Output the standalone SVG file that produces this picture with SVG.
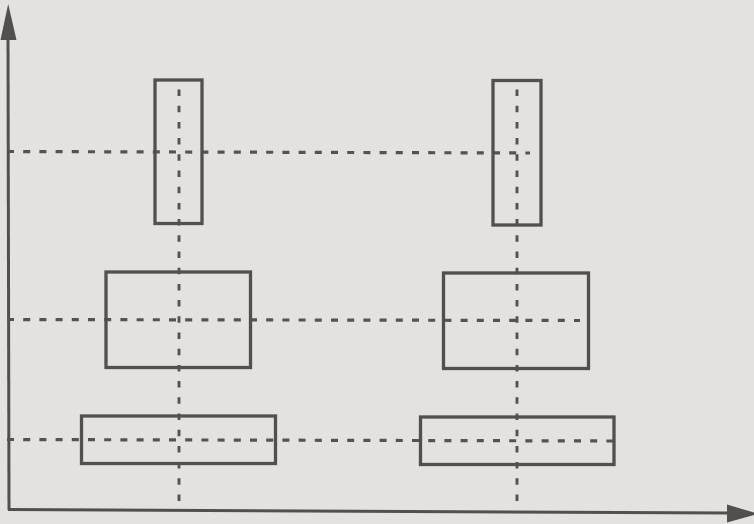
<svg xmlns="http://www.w3.org/2000/svg" width="754" height="524" viewBox="0 0 754 524">
  <style>
    .box { fill: none; stroke: #51504e; stroke-width: 3.3; }
    .axis { fill: none; stroke: #51504e; stroke-width: 3; }
    .head { fill: #51504e; stroke: none; }
    .dash { fill: none; stroke: #545351; stroke-width: 3.2; stroke-dasharray: 7 9.2; }
    .vdash { fill: none; stroke: #545351; stroke-width: 2.9; stroke-dasharray: 6.5 9.7; }
  </style>
  <rect x="0" y="0" width="754" height="524" fill="#e3e2e0"/>

  <g id="connectors">
    <g id="axes">
      <line class="axis" x1="8" y1="36" x2="9" y2="510"/>
      <polygon class="head" points="8.2,4 0.5,40 16.5,40"/>
      <line class="axis" x1="8" y1="509.5" x2="730" y2="513"/>
      <polygon class="head" points="727,504.5 727,522.5 758,513.8"/>
    </g>
    <g id="guides">
      <line class="dash" x1="7" y1="151.5" x2="530" y2="153"/>
      <line class="dash" x1="7" y1="319.5" x2="580" y2="320.5"/>
      <line class="dash" x1="7" y1="439.5" x2="614" y2="441"/>
      <line class="vdash" x1="179" y1="501" x2="179" y2="79"/>
      <line class="vdash" x1="517" y1="501" x2="517" y2="79"/>
    </g>
  </g>

  <g id="box-top-left"><rect class="box" x="155" y="80" width="47" height="143.5"/></g>
  <g id="box-top-right"><rect class="box" x="493" y="80.5" width="48" height="144.5"/></g>
  <g id="box-mid-left"><rect class="box" x="106" y="272" width="144.5" height="95.5"/></g>
  <g id="box-mid-right"><rect class="box" x="443.5" y="273" width="145" height="95.5"/></g>
  <g id="box-bottom-left"><rect class="box" x="81.5" y="416" width="194" height="47.5"/></g>
  <g id="box-bottom-right"><rect class="box" x="420.5" y="417" width="193.5" height="47.5"/></g>
</svg>
